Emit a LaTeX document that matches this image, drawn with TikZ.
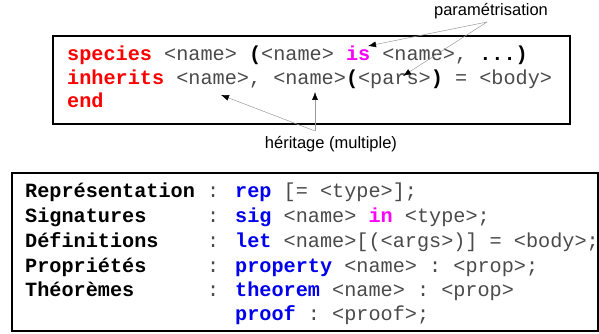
\documentclass[tikz,border=0pt]{standalone}
\usepackage{fontspec}
\usetikzlibrary{arrows.meta}
\newfontfamily\monof{Liberation Mono}
\newfontfamily\sansf{Liberation Sans}
\definecolor{kwred}{HTML}{FF0000}
\definecolor{kwmag}{HTML}{FF00FF}
\definecolor{kwblue}{HTML}{0000EE}
\definecolor{plaintxt}{HTML}{4A4A4A}
\newcommand\KwR[1]{{\bfseries\color{kwred}#1}}
\newcommand\KwM[1]{{\bfseries\color{kwmag}#1}}
\newcommand\KwB[1]{{\bfseries\color{kwblue}#1}}
\newcommand\Bd[1]{{\bfseries\color{black}#1}}
\begin{document}
\begin{tikzpicture}[x=1pt,y=-1pt,
  code/.style={anchor=base west, inner sep=0pt, font=\monof\fontsize{20.2}{24}\selectfont\frenchspacing, text=plaintxt},
  lbl/.style={anchor=base, inner sep=0pt, font=\sansf\fontsize{16.5}{20}\selectfont},
  box/.style={draw=black, line width=2.6pt, inner sep=0pt},
  note/.style={draw=black!40, line width=0.5pt, -{Latex[length=8pt,width=6pt,black]}}]
\useasboundingbox (0,0) rectangle (599,334);
% boxes
\node (topbox) [box, minimum width=517pt, minimum height=88pt] at (311.5,80) {};
\node (botbox) [box, minimum width=586pt, minimum height=158pt] at (305,252) {};
% top code
\node (l1) [code] at (67,61) {\KwR{species} <name> \Bd{(}<name> \KwM{is} <name>, \Bd{...)}};
\node (l2) [code] at (67,85) {\KwR{inherits} <name>, <name>\Bd{(}<pars>\Bd{)} = <body>};
\node (l3) [code] at (67,108) {\KwR{end}};
% bottom code: labels
\node (s1) [code] at (25,197) {\Bd{Représentation}};
\node (s2) [code] at (25,222) {\Bd{Signatures}};
\node (s3) [code] at (25,247) {\Bd{Définitions}};
\node (s4) [code] at (25,272) {\Bd{Propriétés}};
\node (s5) [code] at (25,296) {\Bd{Théorèmes}};
% colons
\node (c1) [code] at (207,197) {:};
\node (c2) [code] at (207,222) {:};
\node (c3) [code] at (207,247) {:};
\node (c4) [code] at (207,272) {:};
\node (c5) [code] at (207,296) {:};
% right-hand sides
\node (r1) [code] at (235,197) {\KwB{rep} [= <type>];};
\node (r2) [code] at (235,222) {\KwB{sig} <name> \KwM{in} <type>;};
\node (r3) [code] at (235,247) {\KwB{let} <name>[(<args>)] = <body>;};
\node (r4) [code] at (235,272) {\KwB{property} <name> : <prop>;};
\node (r5) [code] at (235,296) {\KwB{theorem} <name> : <prop>};
\node (r6) [code] at (235,320) {\KwB{proof} : <proof>;};
% labels
\node (param) [lbl] at (491,16) {paramétrisation};
\node (herit) [lbl] at (331,148) {héritage (multiple)};
% arrow ends
\coordinate (pstart) at (487,22);
\coordinate (isTip) at (368,46);
\coordinate (parsTip) at (403,76);
\coordinate (hstart) at (315,131);
\coordinate (nameA) at (221,95);
\coordinate (nameB) at (315,92);
\draw[note] (pstart) -- (isTip);
\draw[note] (pstart) -- (parsTip);
\draw[note] (hstart) -- (nameA);
\draw[note] (hstart) -- (nameB);
\end{tikzpicture}
\end{document}
